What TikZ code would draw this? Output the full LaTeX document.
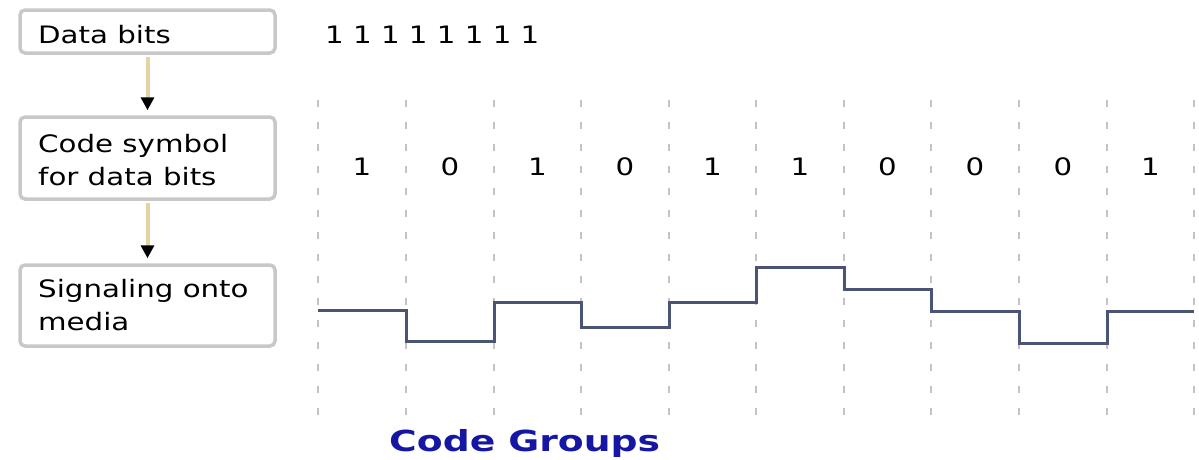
\documentclass[tikz,border=0pt]{standalone}
\usepackage{fontspec}
\setmainfont{DejaVu Sans}[FakeStretch=1.22]
\newfontfamily\cgfont{DejaVu Sans Bold}[FakeStretch=1.3]
\usetikzlibrary{arrows.meta}
\definecolor{boxborder}{RGB}{200,200,200}
\definecolor{shaft}{RGB}{228,212,160}
\definecolor{sigcol}{RGB}{75,85,115}
\definecolor{gridcol}{RGB}{195,195,195}
\definecolor{cgblue}{RGB}{22,22,165}
\tikzset{
  stagebox/.style={draw=boxborder, line width=3.5pt, fill=white, rounded corners=5pt,
                   minimum width=255pt, inner sep=0pt},
  boxtext/.style={inner sep=0pt, align=left, font=\fontsize{24}{33}\selectfont},
  bittext/.style={inner sep=0pt, font=\fontsize{24}{33}\selectfont},
  flowarrow/.style={draw=shaft, line width=4pt, shorten <=2pt, shorten >=5pt,
                    -{Triangle[length=13pt,width=13pt,color=black]}},
  gridline/.style={draw=gridcol, line width=1.8pt, dash pattern=on 7pt off 15pt},
  signalline/.style={draw=sigcol, line width=3pt, line join=miter},
}
\begin{document}
\begin{tikzpicture}[x=1pt,y=-1pt]
\useasboundingbox (0,0) rectangle (1199,459);

% stage boxes
\node[stagebox, minimum height=43pt] (databits) at (147.5,31.5) {};
\node[stagebox, minimum height=82pt] (codesym) at (147.5,158) {};
\node[stagebox, minimum height=81pt] (signal) at (147.5,305.5) {};

\node[boxtext, anchor=base west] (databits-t) at (38,43) {Data bits};
\node[boxtext, anchor=base west] (codesym-t) at (38,185) {Code symbol\\for data bits};
\node[boxtext, anchor=base west] (signal-t) at (38,330) {Signaling onto\\media};

% arrows
\draw[flowarrow] (databits.south) -- (codesym.north);
\draw[flowarrow] (codesym.south) -- (signal.north);

% data bits row
\node[bittext, anchor=base west] (bits) at (325,43) {1 1 1 1 1 1 1 1};

% grid lines
\foreach \i/\x in {0/318,1/406,2/494,3/581,4/669,5/756,6/844,7/931,8/1019,9/1107,10/1194}{
  \coordinate (gt\i) at (\x,100);
  \coordinate (gb\i) at (\x,427);
  \draw[gridline] (gt\i) -- (gb\i);
}

% code symbols
\foreach \i/\x/\b in {1/362/1,2/450/0,3/537.5/1,4/625/0,5/712.5/1,6/800/1,7/887.5/0,8/975/0,9/1063/0,10/1150.5/1}{
  \node[bittext, anchor=base] (sym\i) at (\x,175) {\b};
}

% signal waveform
\draw[signalline] (318,310) -- (406,310) -- (406,341) -- (494,341) -- (494,302)
  -- (581,302) -- (581,327) -- (669,327) -- (669,302) -- (756,302) -- (756,267)
  -- (844,267) -- (844,289) -- (931,289) -- (931,311) -- (1019,311) -- (1019,343)
  -- (1107,343) -- (1107,311) -- (1194,311);

% caption
\node[inner sep=0pt, anchor=base west, text=cgblue, font=\cgfont\fontsize{29}{34}\selectfont]
  (codegroups) at (389,451) {Code Groups};
\end{tikzpicture}
\end{document}
